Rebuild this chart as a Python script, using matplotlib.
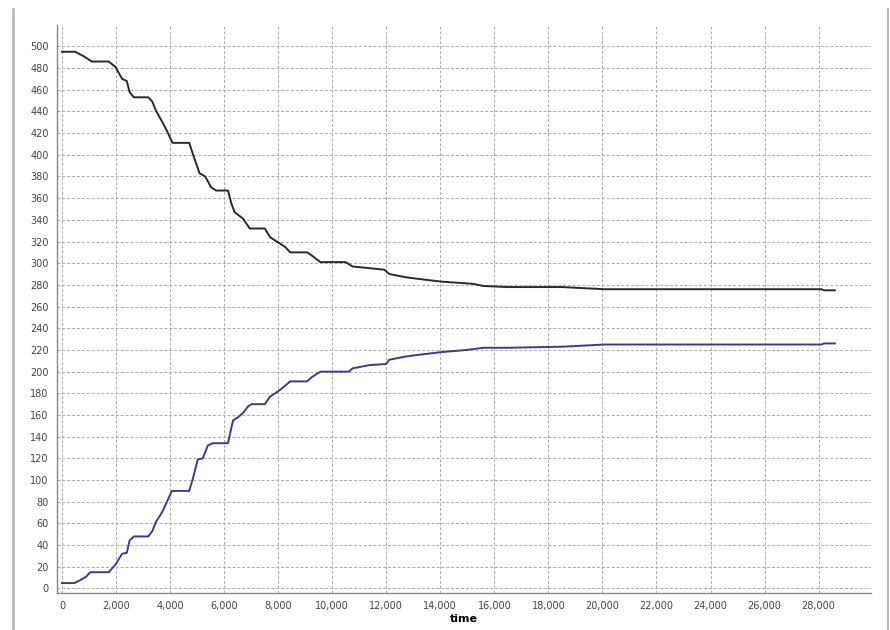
#!/usr/bin/env python3
"""Two mirrored step curves over time (black falling, blue rising)."""

import matplotlib

matplotlib.use('Agg')
import matplotlib.pyplot as plt
from matplotlib.lines import Line2D
from matplotlib.ticker import FuncFormatter, MultipleLocator

# falling series (black)
black_t = [0, 485, 795, 1105, 1730, 1980, 2225, 2400, 2500, 2660, 3195, 3345,
           3470, 3720, 3905, 4090, 4710, 4840, 5090, 5300, 5520, 5710, 6145,
           6270, 6390, 6705, 6950, 7510, 7700, 8010, 8260, 8445, 9070, 9250,
           9565, 10500, 10750, 11930, 12115, 12735, 13360, 14040, 15200,
           15600, 16500, 18520, 20075, 28100, 28200, 28600]
black_v = [495, 495, 491, 486, 486, 481, 470, 468, 458, 453, 453, 449,
           441, 430, 421, 411, 411, 401, 383, 380, 370, 367, 367,
           355, 347, 341, 332, 332, 324, 319, 315, 310, 310, 307,
           301, 301, 297, 294, 290, 287, 285, 283, 281,
           279, 278, 278, 276, 276, 275, 275]

# rising series (blue)
blue_t = [0, 460, 700, 900, 1045, 1730, 1980, 2225, 2400, 2500, 2660, 3195,
          3345, 3470, 3720, 3905, 4070, 4710, 4840, 5025, 5210, 5400, 5585,
          6145, 6205, 6330, 6520, 6705, 6890, 7015, 7510, 7700, 8010, 8260,
          8445, 9070, 9250, 9565, 10620, 10750, 11370, 11990, 12115, 12735,
          13360, 14040, 14975, 15600, 16500, 18520, 20075, 28100, 28200, 28600]
blue_v = [5, 5, 8, 11, 15, 15, 22, 32, 33, 44, 48, 48,
          53, 61, 71, 81, 90, 90, 101, 119, 120, 132, 134,
          134, 141, 155, 158, 162, 168, 170, 170, 177, 182, 187,
          191, 191, 195, 200, 200, 203, 206, 207, 211, 214,
          216, 218, 220, 222, 222, 223, 225, 225, 226, 226]


def main():
    fig = plt.figure(figsize=(8.9, 6.3), dpi=100)
    ax = fig.add_axes([0.064, 0.059, 0.915, 0.901])

    ax.plot(black_t, black_v, color='#2a2a2a', lw=1.4, zorder=3)
    ax.plot(blue_t, blue_v, color='#3c3c8e', lw=1.4, zorder=3)

    ax.set_xlim(-185, 29950)
    ax.set_ylim(-4, 519.5)
    ax.xaxis.set_major_locator(MultipleLocator(2000))
    ax.yaxis.set_major_locator(MultipleLocator(20))
    ax.xaxis.set_major_formatter(FuncFormatter(lambda v, _: f"{int(v):,}"))
    ax.tick_params(length=0, labelsize=7, colors='#444444', pad=6)
    ax.set_xlabel("time", fontsize=8, fontweight='bold', labelpad=2)

    ax.grid(True, color='#aaaaaa', ls=(0, (3, 2)), lw=0.7)
    for side in ('top', 'right'):
        ax.spines[side].set_visible(False)
    for side in ('left', 'bottom'):
        ax.spines[side].set_color('#888888')
        ax.spines[side].set_linewidth(1.0)

    # panel borders
    fig.add_artist(Line2D([13 / 890, 13 / 890], [0, 0.985], color='#bbbbbb', lw=2))
    fig.add_artist(Line2D([888 / 890, 888 / 890], [0, 0.985], color='#bbbbbb', lw=1.5))

    fig.savefig("out.png", dpi=100)


if __name__ == "__main__":
    main()
